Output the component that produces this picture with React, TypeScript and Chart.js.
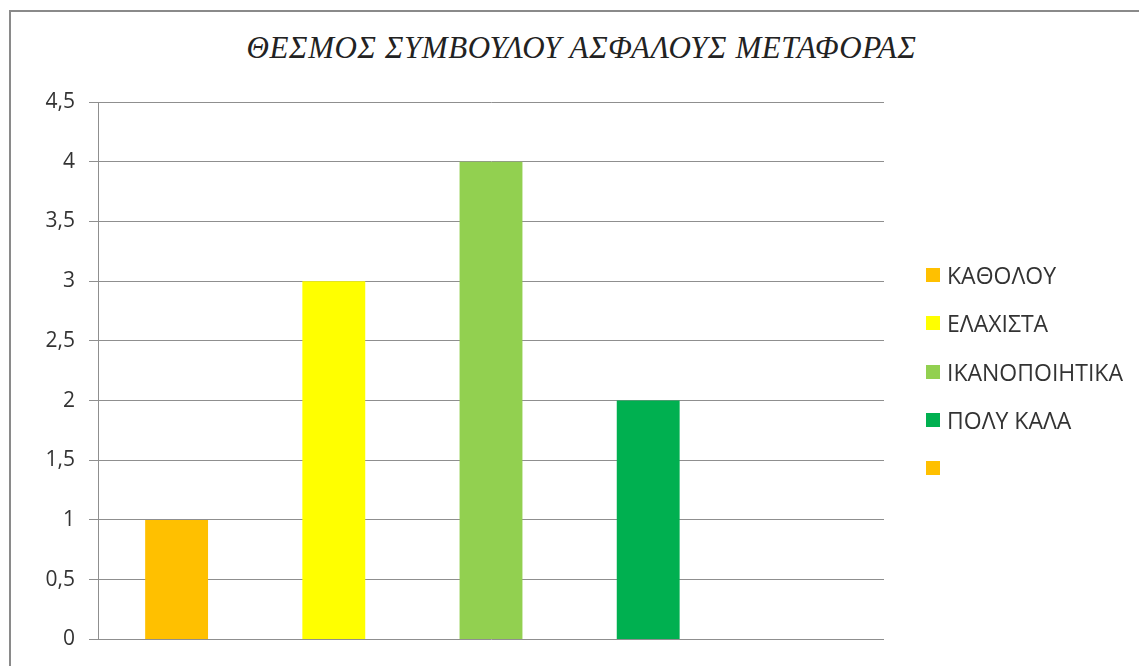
import React, { useEffect, useRef } from "react";
import { Chart, registerables } from "chart.js";

Chart.register(...registerables);

// Survey answers and their counts
const categories: string[] = ["ΚΑΘΟΛΟΥ", "ΕΛΑΧΙΣΤΑ", "ΙΚΑΝΟΠΟΙΗΤΙΚΑ", "ΠΟΛΥ ΚΑΛΑ", ""];
const values: (number | null)[] = [1, 3, 4, 2, null];
const colors: string[] = ["#FFC000", "#FFFF00", "#92D050", "#00B050", "#FFC000"];

const titleText = "ΘΕΣΜΟΣ ΣΥΜΒΟΥΛΟΥ ΑΣΦΑΛΟΥΣ ΜΕΤΑΦΟΡΑΣ";
const yMax = 4.5;
const yStep = 0.5;

const gridColor = "#8f8f8f";
const textColor = "#333333";
const sansFont = "'Open Sans', 'Noto Sans', sans-serif";

export default function App() {
  const canvasRef = useRef<HTMLCanvasElement | null>(null);

  useEffect(() => {
    if (!canvasRef.current) return;
    const chart = new Chart(canvasRef.current, {
      type: "bar",
      data: {
        labels: categories,
        datasets: [
          {
            data: values,
            backgroundColor: colors,
            borderWidth: 0,
            barPercentage: 0.4,
            categoryPercentage: 1,
          },
        ],
      },
      options: {
        animation: false,
        responsive: false,
        maintainAspectRatio: false,
        layout: { padding: { left: 0, right: 255, top: 102, bottom: 24 } },
        plugins: {
          legend: { display: false },
          title: { display: false },
          tooltip: { enabled: false },
        },
        scales: {
          x: { display: false },
          y: {
            min: 0,
            max: yMax,
            ticks: {
              stepSize: yStep,
              padding: 14,
              color: textColor,
              font: { family: sansFont, size: 21 },
              callback: (v: any) => String(v).replace(".", ","),
            },
            grid: { color: gridColor, lineWidth: 1, tickLength: 9 },
            border: { display: true, color: gridColor, width: 1 },
            afterFit: (scale: any) => {
              scale.width = 98;
            },
          },
        },
      },
    });
    return () => chart.destroy();
  }, []);

  return (
    <div
      style={{
        position: "fixed",
        left: 0,
        top: 0,
        width: 1139,
        height: 666,
        overflow: "hidden",
        background: "#fff",
      }}
    >
      <div
        style={{
          position: "absolute",
          left: 9,
          top: 10,
          width: 1200,
          height: 720,
          border: "2px solid #8a8a8a",
        }}
      />
      <div
        style={{
          position: "absolute",
          left: 0,
          top: 30,
          width: 1163,
          textAlign: "center",
          fontFamily: "'Liberation Serif', 'DejaVu Serif', serif",
          fontStyle: "italic",
          fontSize: 31,
          letterSpacing: "0.6px",
          lineHeight: "36px",
          color: "#222",
          whiteSpace: "nowrap",
        }}
      >
        {titleText}
      </div>
      <canvas
        ref={canvasRef}
        width={1139}
        height={666}
        style={{ position: "absolute", left: 0, top: 0 }}
      />
      <div style={{ position: "absolute", left: 926, top: 251 }}>
        {categories.map((c, i) => (
          <div
            key={i}
            style={{
              display: "flex",
              alignItems: "center",
              height: 48.3,
              fontFamily: sansFont,
              fontSize: 23,
              color: textColor,
              whiteSpace: "nowrap",
            }}
          >
            <span
              style={{
                display: "inline-block",
                width: 14,
                height: 14,
                background: colors[i],
                marginRight: 7,
                flexShrink: 0,
              }}
            />
            <span>{c}</span>
          </div>
        ))}
      </div>
    </div>
  );
}
